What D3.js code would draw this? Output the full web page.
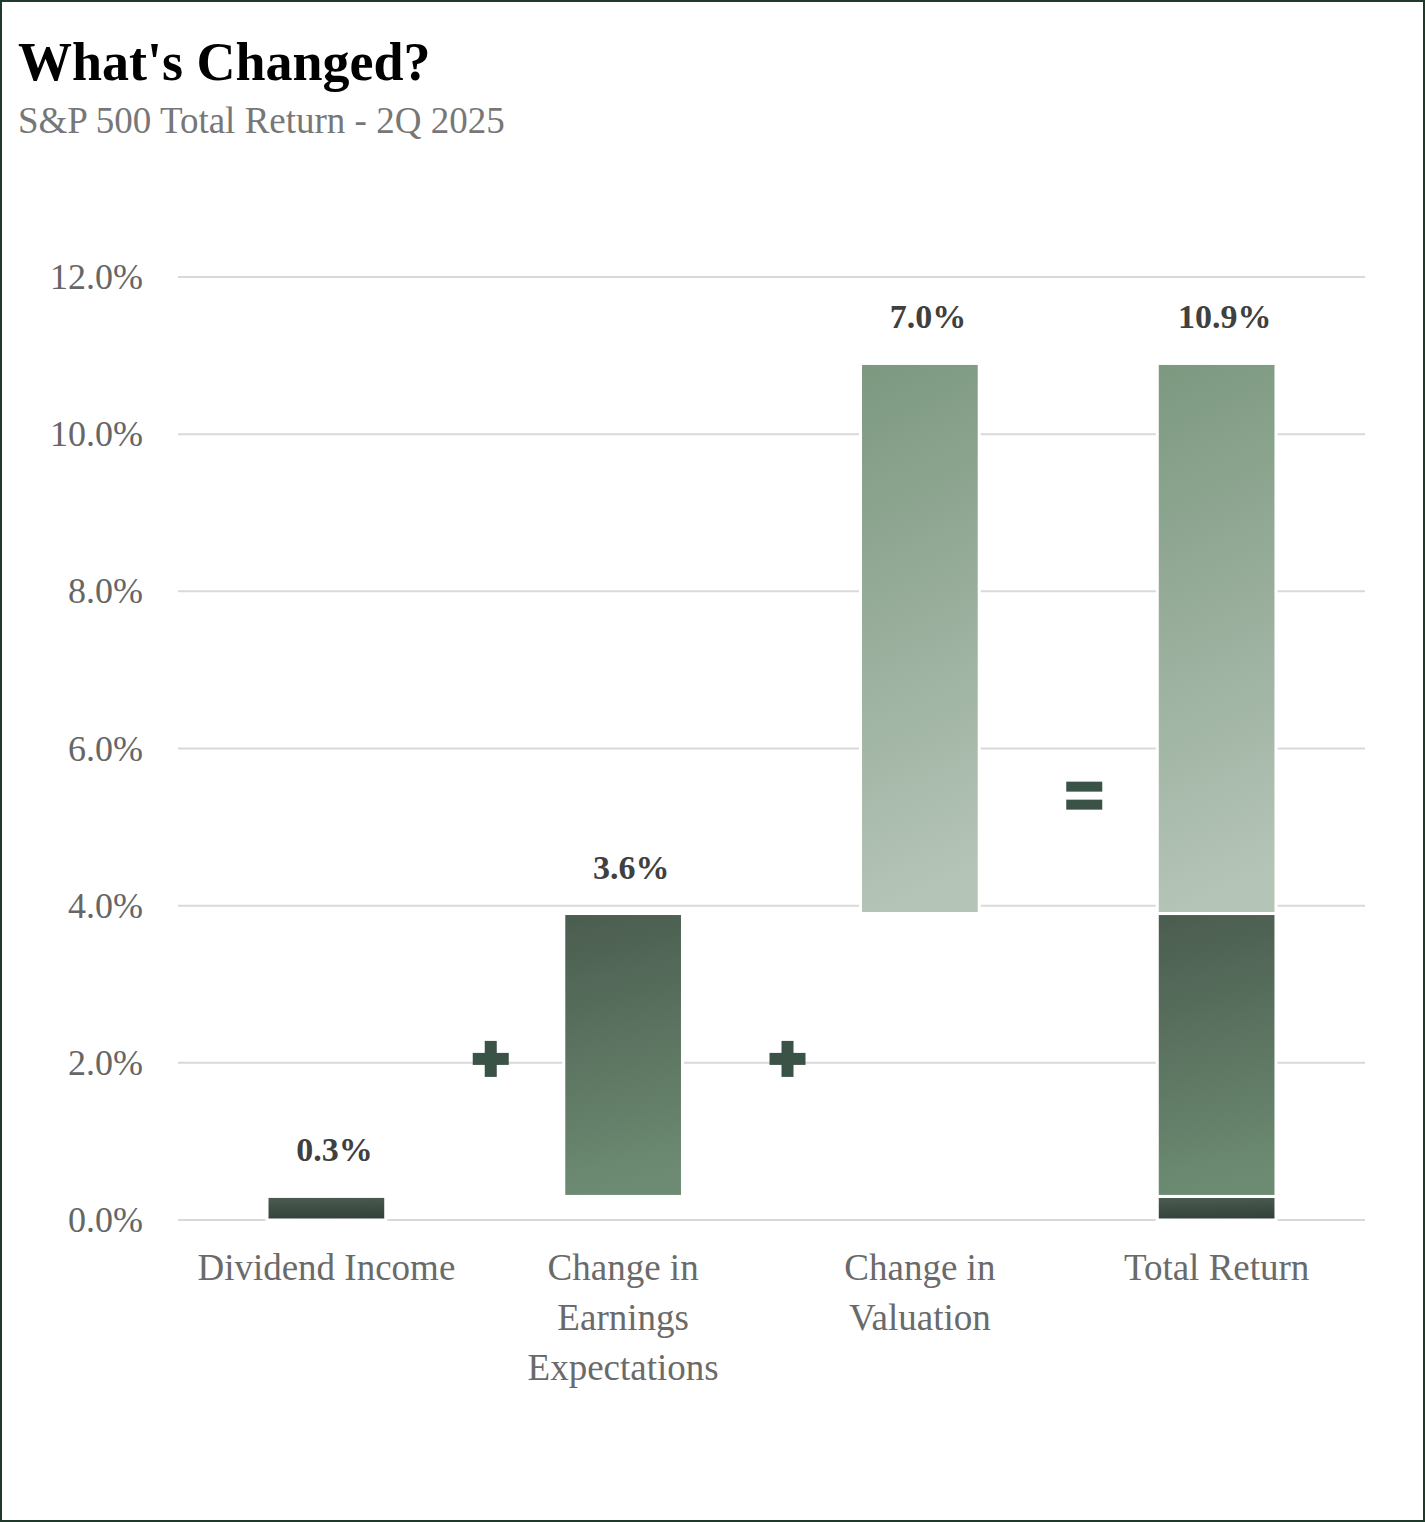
<!DOCTYPE html>
<html><head><meta charset="utf-8">
<script src="https://cdn.jsdelivr.net/npm/d3@7"></script>
<style>
body{margin:0;background:#fff;}
svg{display:block;}
</style></head>
<body>
<svg id="chart" width="1425" height="1522"></svg>
<script>
var categories = ["Dividend Income", "Change in Earnings Expectations", "Change in Valuation", "Total Return"];
var catLines = [["Dividend Income"], ["Change in", "Earnings", "Expectations"], ["Change in", "Valuation"], ["Total Return"]];
var components = ["Dividend", "Earnings", "Valuation"];
var componentValues = [0.3, 3.6, 7.0];
var totalValue = 10.9;
var yTicks = [0, 2, 4, 6, 8, 10, 12];
var operators = ["+", "+", "="];

var svg = d3.select("#chart");
var font = "'Liberation Serif', 'DejaVu Serif', serif";

svg.append("rect").attr("x", 1).attr("y", 1).attr("width", 1423).attr("height", 1520)
  .attr("fill", "#fff").attr("stroke", "#1f3a2a").attr("stroke-width", 2);

svg.append("text").attr("x", 18).attr("y", 80).text("What's Changed?")
  .attr("font-family", font).attr("font-weight", "bold").attr("font-size", 54).attr("fill", "#000");
svg.append("text").attr("x", 18).attr("y", 133).text("S&P 500 Total Return - 2Q 2025")
  .attr("font-family", font).attr("font-size", 37).attr("fill", "#777");

var x = d3.scaleBand().domain(categories).range([178, 1365]).paddingInner(0.6).paddingOuter(0.3);
var y = d3.scaleLinear().domain([0, 12]).range([1220, 277]);

var defs = svg.append("defs");
var grads = [["g0", "#4c5d52", "#33413a"], ["g1", "#4a5c4f", "#6d8b72"], ["g2", "#7c987f", "#b4c4b7"]];
grads.forEach(function(g){
  var lg = defs.append("linearGradient").attr("id", g[0]).attr("x1", 0).attr("y1", 0).attr("x2", 0.1).attr("y2", 1);
  lg.append("stop").attr("offset", "0%").attr("stop-color", g[1]);
  lg.append("stop").attr("offset", "100%").attr("stop-color", g[2]);
});

// grid
svg.selectAll(".grid").data(yTicks).enter().append("line")
  .attr("x1", 178).attr("x2", 1365).attr("y1", function(d){ return y(d); }).attr("y2", function(d){ return y(d); })
  .attr("stroke", "#d9d9d9").attr("stroke-width", 2);
svg.selectAll(".ytl").data(yTicks).enter().append("text")
  .attr("x", 143).attr("y", function(d){ return y(d) + 12; }).attr("text-anchor", "end")
  .attr("font-family", font).attr("font-size", 36).attr("fill", "#666")
  .text(function(d){ return d.toFixed(1) + "%"; });

// floating segments
var segs = [];
var base = 0;
componentValues.forEach(function(v, i){
  var lo = base, hi = +(base + v).toFixed(1);
  if (i === 2) hi = totalValue;
  segs.push({cat: categories[i], lo: lo, hi: hi, g: i});
  segs.push({cat: categories[3], lo: lo, hi: hi, g: i});
  base = hi;
});
var bw = x.bandwidth() * 1.0;
svg.selectAll(".bar").data(segs).enter().append("rect")
  .attr("x", function(d){ return x(d.cat); }).attr("width", x.bandwidth())
  .attr("y", function(d){ return y(d.hi); }).attr("height", function(d){ return y(d.lo) - y(d.hi); })
  .attr("fill", function(d){ return "url(#g" + d.g + ")"; })
  .attr("stroke", "#fff").attr("stroke-width", 3);

// value labels
var labels = componentValues.map(function(v, i){ return {cat: categories[i], v: v, top: segs[i * 2].hi}; });
labels.push({cat: categories[3], v: totalValue, top: totalValue});
svg.selectAll(".vl").data(labels).enter().append("text")
  .attr("x", function(d){ return x(d.cat) + x.bandwidth() / 2 + 8; })
  .attr("y", function(d){ return y(d.top) - 35; }).attr("text-anchor", "middle")
  .attr("font-family", font).attr("font-weight", "bold").attr("font-size", 34).attr("fill", "#404040")
  .text(function(d){ return d.v.toFixed(1) + "%"; });

// category labels
catLines.forEach(function(lines, i){
  var t = svg.append("text").attr("x", x(categories[i]) + x.bandwidth() / 2).attr("y", 1280)
    .attr("text-anchor", "middle").attr("font-family", font).attr("font-size", 37).attr("fill", "#6a6a6a");
  lines.forEach(function(l, j){ t.append("tspan").attr("x", x(categories[i]) + x.bandwidth() / 2).attr("dy", j ? 50 : 0).text(l); });
});

// operators between bars
var opY = [2.05, 2.05, 5.4];
operators.forEach(function(op, i){
  var cx = (x(categories[i]) + x.bandwidth() + x(categories[i + 1])) / 2 + 16, cy = y(opY[i]);
  var c = "#3b5246";
  if (op === "+") {
    svg.append("rect").attr("x", cx - 18).attr("y", cy - 6).attr("width", 36).attr("height", 12).attr("fill", c);
    svg.append("rect").attr("x", cx - 6).attr("y", cy - 18).attr("width", 12).attr("height", 36).attr("fill", c);
  } else {
    svg.append("rect").attr("x", cx - 18).attr("y", cy - 14).attr("width", 36).attr("height", 10).attr("fill", c);
    svg.append("rect").attr("x", cx - 18).attr("y", cy + 4).attr("width", 36).attr("height", 10).attr("fill", c);
  }
});
</script>
</body></html>
